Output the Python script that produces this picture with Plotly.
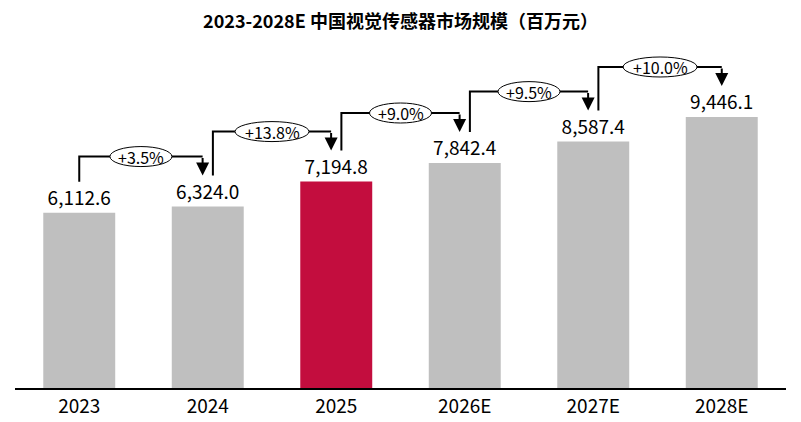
import plotly.graph_objects as go

# market size, million CNY
years = ["2023", "2024", "2025", "2026E", "2027E", "2028E"]
values = [6112.6, 6324.0, 7194.8, 7842.4, 8587.4, 9446.1]
highlight = "2025"

title = "2023-2028E 中国视觉传感器市场规模（百万元）"
font = "Noto Sans CJK SC"

W, H = 801, 422
m = dict(l=15, r=15, t=30, b=34)
plot_h = H - m["t"] - m["b"]
ymax = 12478
px = ymax / plot_h  # data units per pixel

gray = "#BFBFBF"
red = "#C30D3E"
colors = [red if y == highlight else gray for y in years]
xs = list(range(len(years)))

fig = go.Figure(go.Bar(
    x=xs, y=values, width=0.56,
    marker=dict(color=colors, line=dict(width=0)),
    text=[f"{v:,.1f}" for v in values],
    textposition="outside",
    textfont=dict(size=19, color="black", family=font),
    cliponaxis=False,
))

shapes = []
ellipses = []
annotations = []
n = len(values)
for i in range(n - 1):
    g = (values[i + 1] / values[i] - 1) * 100
    label = f"+{g:.1f}%"
    x0 = i + (0.04 if i > 0 else 0)
    x1 = i + 1 - (0.04 if i + 1 < n - 1 else 0)
    y_bot = values[i] + 31 * px
    y_tip = values[i + 1] + 31 * px
    y_lvl = values[i + 1] + 50 * px
    shapes.append(dict(type="path", xref="x", yref="y",
                       path=f"M {x0},{y_bot} L {x0},{y_lvl} L {x1},{y_lvl}",
                       line=dict(color="black", width=2)))
    annotations.append(dict(x=x1, y=y_tip, ax=x1, ay=y_lvl, axref="x", ayref="y",
                            xref="x", yref="y", text="", showarrow=True,
                            arrowhead=2, arrowsize=1.3, arrowwidth=2,
                            arrowcolor="black", standoff=0))
    xm = (x0 + x1) / 2
    w = 12 * len(label) + 2
    ellipses.append(dict(type="circle", xref="x", yref="y",
                         xsizemode="pixel", ysizemode="pixel",
                         xanchor=xm, yanchor=y_lvl,
                         x0=-w / 2, x1=w / 2, y0=-10, y1=10,
                         fillcolor="white", line=dict(color="black", width=1)))
    annotations.append(dict(x=xm, y=y_lvl, xref="x", yref="y", text=label,
                            showarrow=False,
                            font=dict(size=16, color="black", family=font)))

fig.update_layout(
    width=W, height=H, margin=m,
    paper_bgcolor="white", plot_bgcolor="white",
    showlegend=False,
    title=dict(text=f"<b>{title}</b>", x=0.5, xanchor="center",
               y=1 - 22 / H, yanchor="middle",
               font=dict(size=18, color="black", family=font)),
    xaxis=dict(tickvals=xs, ticktext=years, range=[-0.5, n - 0.5],
               showline=True, linecolor="black", linewidth=1.5,
               showgrid=False, zeroline=False, ticks="", automargin=False,
               tickfont=dict(size=19, color="black", family=font)),
    yaxis=dict(range=[0, ymax], visible=False),
    shapes=shapes + ellipses,
    annotations=annotations,
)

# drop the browser's default 8px body margin so the figure sits at 0,0
fig.write_html("out.html", config={"displayModeBar": False},
               post_script="document.body.style.margin='0';")
